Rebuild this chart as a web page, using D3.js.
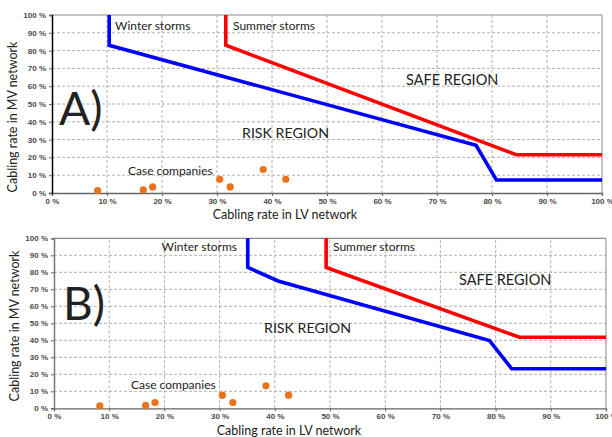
<!DOCTYPE html>
<html>
<head>
<meta charset="utf-8">
<script src="https://cdn.jsdelivr.net/npm/d3@7"></script>
<style>
  html, body { margin: 0; padding: 0; background: #fff; }
  svg { display: block; }
  .tick text { font-family: "Liberation Sans", Arial, sans-serif; font-size: 8px; fill: #4a4a4a; font-weight: bold; }
  .lbl { font-family: Lato, "Open Sans", sans-serif; fill: #222; }
</style>
</head>
<body>
<svg id="chart" width="612" height="437"></svg>
<script>
// Axis ticks (percent)
const tickValues = [0, 10, 20, 30, 40, 50, 60, 70, 80, 90, 100];

// Case companies: cabling rate in LV network / MV network (%)
const caseLV = [8.3, 16.6, 18.3, 30.5, 32.4, 38.4, 42.5];
const caseMV = [1.4, 1.7, 3.4, 7.7, 3.4, 13.2, 7.7];

// Scenario A boundaries (LV %, MV %)
const winterA_LV = [10.4, 10.4, 77.1, 80.8, 100];
const winterA_MV = [100, 83, 26.8, 7.3, 7.3];
const summerA_LV = [31.6, 31.6, 84.4, 100];
const summerA_MV = [100, 83, 21.5, 21.5];

// Scenario B boundaries (LV %, MV %)
const winterB_LV = [35.1, 35.1, 40.6, 78.9, 82.9, 100];
const winterB_MV = [100, 82.9, 74.9, 39.8, 23.3, 23.3];
const summerB_LV = [49.3, 49.3, 84.3, 100];
const summerB_MV = [100, 82.9, 41.8, 41.8];

const svg = d3.select("#chart");
const zip = (xs, ys) => xs.map((x, i) => [x, ys[i]]);

function drawPanel(p) {
  const x = d3.scaleLinear().domain([0, 100]).range([p.left, p.right]);
  const y = d3.scaleLinear().domain([0, 100]).range([p.bottom, p.top]);
  const g = svg.append("g");

  // dashed grid
  g.append("g").selectAll("line.gx").data(tickValues.slice(1, -1)).join("line")
    .attr("x1", d => x(d)).attr("x2", d => x(d))
    .attr("y1", y(0)).attr("y2", y(100))
    .attr("stroke", "#b0b0b0").attr("stroke-width", 1).attr("stroke-dasharray", "3,2");
  g.append("g").selectAll("line.gy").data(tickValues.slice(1, -1)).join("line")
    .attr("x1", x(0)).attr("x2", x(100))
    .attr("y1", d => y(d)).attr("y2", d => y(d))
    .attr("stroke", "#b0b0b0").attr("stroke-width", 1).attr("stroke-dasharray", "3,2");

  // frame top/right
  g.append("line").attr("x1", x(0)).attr("x2", x(100)).attr("y1", y(100)).attr("y2", y(100))
    .attr("stroke", "#8a8a8a").attr("stroke-width", 1.2);
  g.append("line").attr("x1", x(100)).attr("x2", x(100)).attr("y1", y(0)).attr("y2", y(100))
    .attr("stroke", "#9a9a9a").attr("stroke-width", 1.2);

  // axes
  const fmt = d => d + " %";
  const ax = g.append("g").attr("transform", `translate(0,${y(0)})`)
    .call(d3.axisBottom(x).tickValues(tickValues).tickFormat(fmt).tickSize(3).tickPadding(2));
  ax.select(".domain").attr("stroke", "#666").attr("stroke-width", 1.3);
  ax.selectAll(".tick line").attr("stroke", "#666");
  const ay = g.append("g").attr("transform", `translate(${x(0)},0)`)
    .call(d3.axisLeft(y).tickValues(tickValues).tickFormat(fmt).tickSize(3).tickPadding(3));
  ay.select(".domain").attr("stroke", p.yAxisColor).attr("stroke-width", 1.5);
  ay.selectAll(".tick line").attr("stroke", "#666");

  // boundaries
  const line = d3.line().x(d => x(d[0])).y(d => y(d[1]));
  g.append("path").datum(p.summer).attr("d", line)
    .attr("fill", "none").attr("stroke", "#ff0000").attr("stroke-width", 3.6);
  g.append("path").datum(p.winter).attr("d", line)
    .attr("fill", "none").attr("stroke", "#0000ff").attr("stroke-width", 3.6);

  // case companies
  g.append("g").selectAll("circle").data(zip(caseLV, caseMV)).join("circle")
    .attr("cx", d => x(d[0])).attr("cy", d => y(d[1])).attr("r", 3.6)
    .attr("fill", "#e8731c");

  // labels
  p.labels.forEach(l => {
    g.append("text").attr("class", "lbl")
      .attr("x", l.x).attr("y", l.y)
      .attr("font-size", l.size)
      .attr("text-anchor", l.anchor || "start")
      .text(l.text);
  });

  // axis titles
  g.append("text").attr("class", "lbl").attr("font-size", 12.5)
    .attr("text-anchor", "middle")
    .attr("transform", `translate(${p.yTitle[0]},${p.yTitle[1]}) rotate(-90)`)
    .text("Cabling rate in MV network");
  g.append("text").attr("class", "lbl").attr("font-size", 12.5)
    .attr("text-anchor", "middle")
    .attr("x", p.xTitle[0]).attr("y", p.xTitle[1])
    .text("Cabling rate in LV network");
}

drawPanel({
  left: 52, right: 602, top: 15, bottom: 193, yAxisColor: "#000",
  winter: zip(winterA_LV, winterA_MV), summer: zip(summerA_LV, summerA_MV),
  yTitle: [17, 117], xTitle: [285, 218.5],
  labels: [
    { text: "Winter storms", x: 115, y: 30, size: 12 },
    { text: "Summer storms", x: 233, y: 30, size: 12 },
    { text: "SAFE REGION", x: 406, y: 85, size: 14.5 },
    { text: "RISK REGION", x: 242, y: 138, size: 14.2 },
    { text: "Case companies", x: 128, y: 175, size: 12 },
    { text: "A)", x: 59, y: 125, size: 46 }
  ]
});

drawPanel({
  left: 54, right: 606, top: 238.3, bottom: 408.3, yAxisColor: "#777",
  winter: zip(winterB_LV, winterB_MV), summer: zip(summerB_LV, summerB_MV),
  yTitle: [19, 326], xTitle: [289, 435],
  labels: [
    { text: "Winter storms", x: 237, y: 250.5, size: 12, anchor: "end" },
    { text: "Summer storms", x: 333, y: 250.5, size: 12 },
    { text: "SAFE REGION", x: 459, y: 285, size: 14.5 },
    { text: "RISK REGION", x: 264, y: 333, size: 14.2 },
    { text: "Case companies", x: 131, y: 389, size: 12 },
    { text: "B)", x: 63, y: 320, size: 46 }
  ]
});
</script>
</body>
</html>
